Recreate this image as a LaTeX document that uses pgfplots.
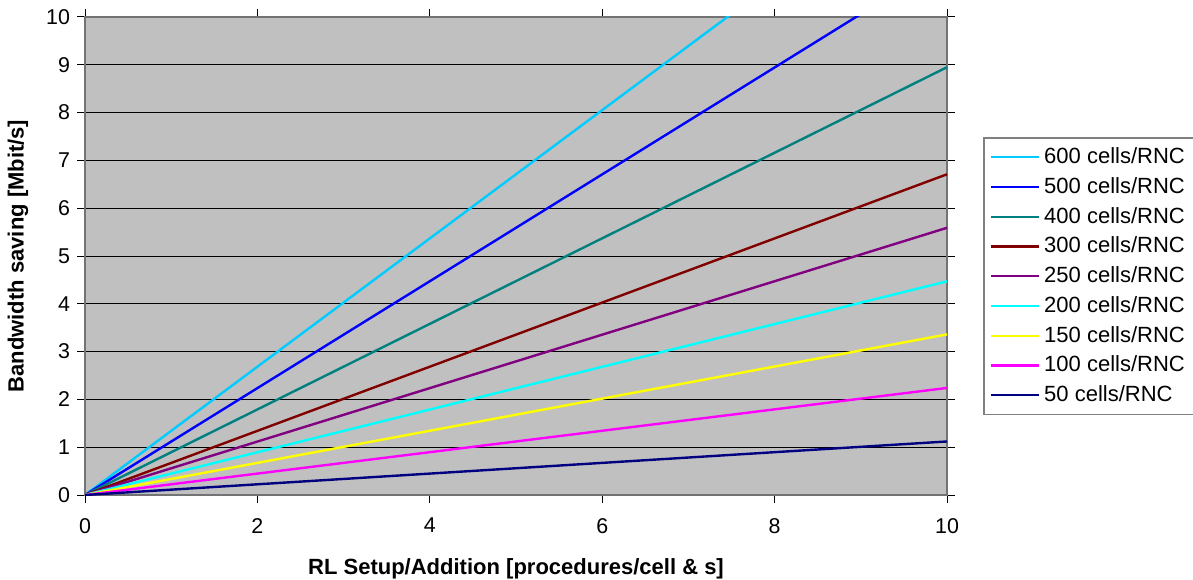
\documentclass[border=0pt]{standalone}
\usepackage{pgfplots}
\pgfplotsset{compat=1.18}
\usepackage{fontspec}
\setmainfont{Liberation Sans}
\definecolor{c600}{HTML}{00CCFF}
\definecolor{c500}{HTML}{0000FF}
\definecolor{c400}{HTML}{008080}
\definecolor{c300}{HTML}{800000}
\definecolor{c250}{HTML}{800080}
\definecolor{c200}{HTML}{00FFFF}
\definecolor{c150}{HTML}{FFFF00}
\definecolor{c100}{HTML}{FF00FF}
\definecolor{c50}{HTML}{000080}
\definecolor{bg}{HTML}{C0C0C0}
\begin{document}
\begin{tikzpicture}
\useasboundingbox (0,0) rectangle (596.5pt,289.5pt);
\begin{axis}[
  at={(42.5pt,42pt)}, anchor=south west,
  scale only axis, width=431pt, height=239pt,
  xmin=0, xmax=10, ymin=0, ymax=10,
  xtick={0,2,4,6,8,10}, ytick={0,1,...,10},
  axis background/.style={fill=bg},
  axis line style={draw=gray!90!black, line width=0.8pt},
  ymajorgrids, grid style={black, line width=0.5pt},
  tick align=outside, tick style={black, line width=0.5pt},
  major tick length=4pt,
  /pgf/number format/assume math mode=true,
  tick label style={font=\fontsize{10.7}{12}\selectfont},
  xticklabel style={yshift=-4pt},
  xlabel={\textbf{RL Setup/Addition [procedures/cell \& s]}},
  ylabel={\textbf{Bandwidth saving [Mbit/s]}},
  label style={font=\fontsize{11}{13}\selectfont},
  xlabel style={yshift=-6pt},
  ylabel style={yshift=2pt},
  legend style={at={(1.0418,0.749)}, anchor=north west, draw=gray, line width=0.8pt,
    font=\fontsize{11}{13}\selectfont, row sep=1.4pt, inner sep=3pt,
    cells={anchor=west}},
  legend image code/.code={\draw[#1, line width=1.2pt] (0pt,0pt) -- (24pt,0pt);},
  every axis plot/.append style={line width=1.2pt},
  clip=true,
]
\addplot[c600] coordinates {(0,0) (10,13.42)};
\addlegendentry{600 cells/RNC}
\addplot[c500] coordinates {(0,0) (10,11.18)};
\addlegendentry{500 cells/RNC}
\addplot[c400] coordinates {(0,0) (10,8.95)};
\addlegendentry{400 cells/RNC}
\addplot[c300] coordinates {(0,0) (10,6.71)};
\addlegendentry{300 cells/RNC}
\addplot[c250] coordinates {(0,0) (10,5.59)};
\addlegendentry{250 cells/RNC}
\addplot[c200] coordinates {(0,0) (10,4.47)};
\addlegendentry{200 cells/RNC}
\addplot[c150] coordinates {(0,0) (10,3.36)};
\addlegendentry{150 cells/RNC}
\addplot[c100] coordinates {(0,0) (10,2.24)};
\addlegendentry{100 cells/RNC}
\addplot[c50] coordinates {(0,0) (10,1.12)};
\addlegendentry{50 cells/RNC}
\end{axis}
\end{tikzpicture}
\end{document}
